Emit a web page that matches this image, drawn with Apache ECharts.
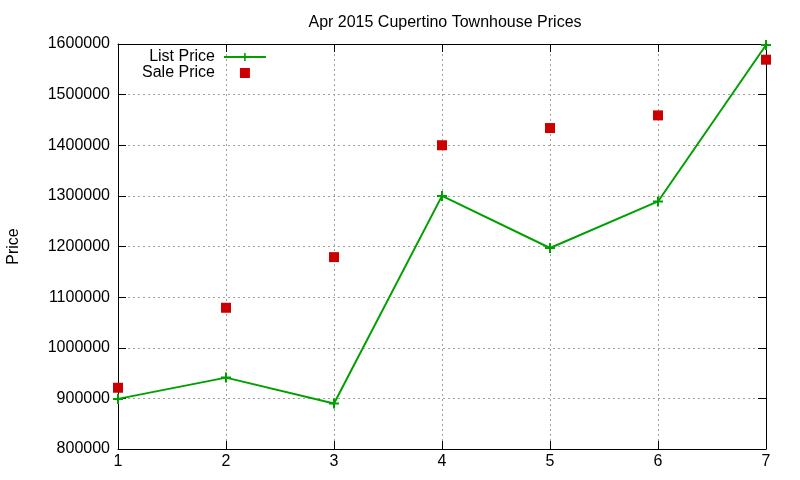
<!DOCTYPE html>
<html>
<head>
<meta charset="utf-8">
<script src="https://cdn.jsdelivr.net/npm/echarts@6/dist/echarts.min.js"></script>
<style>
  html, body { margin: 0; padding: 0; background: #fff; }
  #chart { width: 800px; height: 480px; }
</style>
</head>
<body>
<div id="chart"></div>
<script>
// values
const months = [1, 2, 3, 4, 5, 6, 7]
const listPrice = [899000, 941000, 890000, 1300000, 1197000, 1289000, 1598000]
const salePrice = [921000, 1079000, 1179000, 1400000, 1434000, 1459000, 1569000]

const font = 'Liberation Sans, Arial, sans-serif'
const plus = 'path://M4,0h2v4h4v2h-4v4h-2v-4h-4v-2h4z'

let chart = echarts.init(document.getElementById('chart'))
chart.setOption({
  animation: false,
  title: {
    text: 'Apr 2015 Cupertino Townhouse Prices',
    left: 440,
    textAlign: 'center',
    top: 10,
    textStyle: { fontFamily: font, fontSize: 16, fontWeight: 'normal', color: '#000' }
  },
  //左上角的图例，文字在左图标在右
  legend: {
    orient: 'vertical',
    left: 142,
    top: 49,
    align: 'right',
    itemWidth: 42,
    itemHeight: 10,
    itemGap: 0,
    padding: 0,
    textStyle: { fontFamily: font, fontSize: 16, color: '#000', lineHeight: 12, padding: [0, 4, 0, 0] },
    data: [
      { name: 'List Price' },
      { name: 'Sale Price', icon: 'path://M0,0M42,10M16,0h10v10h-10z' }
    ]
  },
  grid: { left: 118, right: 34, top: 44, bottom: 31, outerBoundsMode: 'none' },
  xAxis: [
    {
      type: 'value', min: 1, max: 7, interval: 1,
      axisLine: { lineStyle: { color: '#000', width: 1 } },
      axisTick: { inside: true, length: 8, lineStyle: { color: '#000' } },
      axisLabel: { fontFamily: font, fontSize: 16, color: '#000', margin: 5 },
      splitLine: { show: true, lineStyle: { color: '#a0a0a0', type: [2, 3] } }
    },
    {
      type: 'value', min: 1, max: 7, interval: 1, position: 'top',
      axisLine: { show: true, lineStyle: { color: '#000' } },
      axisTick: { inside: true, length: 8, lineStyle: { color: '#000' } },
      axisLabel: { show: false },
      splitLine: { show: false }
    }
  ],
  yAxis: [
    {
      type: 'value', min: 800000, max: 1600000, interval: 100000,
      name: 'Price',
      nameLocation: 'middle',
      nameGap: 96,
      nameRotate: 90,
      nameTextStyle: { fontFamily: font, fontSize: 16, color: '#000' },
      axisLine: { show: true, lineStyle: { color: '#000' } },
      axisTick: { inside: true, length: 8, lineStyle: { color: '#000' } },
      axisLabel: { fontFamily: font, fontSize: 16, color: '#000', margin: 8, formatter: v => String(v) },
      splitLine: { show: true, lineStyle: { color: '#a0a0a0', type: [2, 3] } }
    },
    {
      type: 'value', min: 800000, max: 1600000, interval: 100000, position: 'right',
      axisLine: { show: true, lineStyle: { color: '#000' } },
      axisTick: { inside: true, length: 8, lineStyle: { color: '#000' } },
      axisLabel: { show: false },
      splitLine: { show: false }
    }
  ],
  series: [
    {
      name: 'List Price',
      type: 'line',
      data: months.map((m, i) => [m, listPrice[i]]),
      symbol: plus,
      symbolSize: 10,
      showAllSymbol: true,
      itemStyle: { color: '#00a000' },
      lineStyle: { color: '#00a000', width: 2 }
    },
    {
      name: 'Sale Price',
      type: 'scatter',
      data: months.map((m, i) => [m, salePrice[i]]),
      symbol: 'rect',
      symbolSize: 10,
      itemStyle: { color: '#cc0000', opacity: 1 }
    }
  ]
})
</script>
</body>
</html>
